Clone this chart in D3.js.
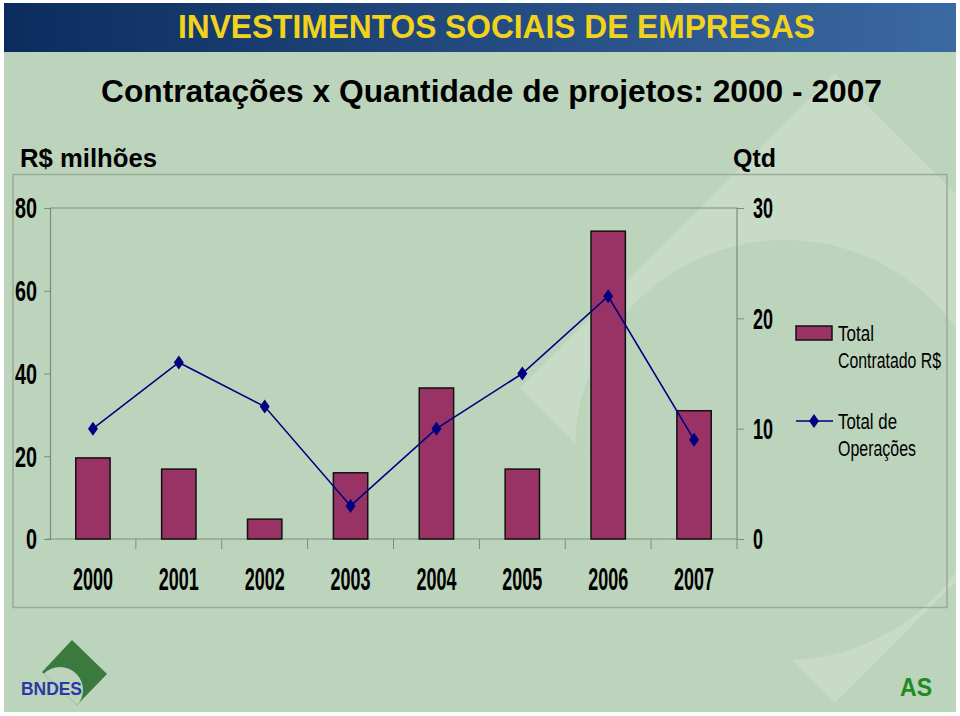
<!DOCTYPE html>
<html>
<head>
<meta charset="utf-8">
<script src="https://cdn.jsdelivr.net/npm/d3@7"></script>
<style>
  body { margin: 0; background: #fff; }
  svg { display: block; }
  .narrow { font-family: "Liberation Sans Narrow", "Arial Narrow", "Liberation Sans", sans-serif; font-stretch: condensed; }
  .sans { font-family: "Liberation Sans", Arial, sans-serif; }
</style>
</head>
<body>
<svg></svg>
<script>
// values
const years = ["2000", "2001", "2002", "2003", "2004", "2005", "2006", "2007"];
const totalContratado = [19.6, 16.9, 4.8, 16.0, 36.5, 16.9, 74.4, 31.0];
const totalOperacoes = [10, 16, 12, 3, 10, 15, 22, 9];
const leftTicks = [0, 20, 40, 60, 80];
const rightTicks = [0, 10, 20, 30];
const legendBar = ["Total", "Contratado R$"];
const legendLine = ["Total de", "Operações"];

let width = 960;
let height = 716;
let plot = {left: 50, right: 737, top: 208, bottom: 539};
let barColor = "#993366";
let lineColor = "#000080";
let axisColor = "#7d8b7d";
let bgColor = "#bdd4bc";

let svg = d3.select("svg")
            .attr("width", width)
            .attr("height", height);
let defs = svg.append("defs");

// slide background
svg.append("rect")
   .attr("x", 4).attr("y", 3)
   .attr("width", 952).attr("height", 709)
   .attr("fill", bgColor);

// faded logo watermark: diamond with a round bite, kept inside the slide
let wmDiamond = "M520,388L835,73L1150,388L835,703Z";
defs.append("clipPath").attr("id", "page")
    .append("rect").attr("x", 4).attr("y", 52).attr("width", 952).attr("height", 660);
defs.append("clipPath").attr("id", "wm")
    .append("path").attr("d", wmDiamond);

let wmGroup = svg.append("g").attr("clip-path", "url(#page)")
                 .append("g").attr("clip-path", "url(#wm)");
wmGroup.append("path")
   .attr("d", wmDiamond)
   .attr("fill", "#ffffff")
   .attr("fill-opacity", 0.17);
wmGroup.append("circle")
   .attr("cx", 785).attr("cy", 450).attr("r", 210)
   .attr("fill", bgColor);

// header band
let grad = defs.append("linearGradient").attr("id", "band");
grad.append("stop").attr("offset", "0%").attr("stop-color", "#0c2c5e");
grad.append("stop").attr("offset", "100%").attr("stop-color", "#3b69a2");
svg.append("rect")
   .attr("x", 4).attr("y", 3)
   .attr("width", 952).attr("height", 49)
   .attr("fill", "url(#band)");

svg.append("text")
   .attr("class", "narrow")
   .attr("x", 178).attr("y", 38)
   .attr("textLength", 637)
   .attr("lengthAdjust", "spacingAndGlyphs")
   .style("font-size", "34px")
   .style("font-weight", "bold")
   .attr("fill", "#f2d31c")
   .text("INVESTIMENTOS SOCIAIS DE EMPRESAS");

svg.append("text")
   .attr("class", "sans")
   .attr("x", 101).attr("y", 102)
   .attr("textLength", 781)
   .attr("lengthAdjust", "spacingAndGlyphs")
   .style("font-size", "31px")
   .style("font-weight", "bold")
   .attr("fill", "#000")
   .text("Contratações x Quantidade de projetos: 2000 - 2007");

// axis titles
svg.append("text")
   .attr("class", "sans")
   .attr("x", 20).attr("y", 167)
   .attr("textLength", 137)
   .attr("lengthAdjust", "spacingAndGlyphs")
   .style("font-size", "25px")
   .style("font-weight", "bold")
   .text("R$ milhões");

svg.append("text")
   .attr("class", "sans")
   .attr("x", 733).attr("y", 167)
   .attr("textLength", 43)
   .attr("lengthAdjust", "spacingAndGlyphs")
   .style("font-size", "25px")
   .style("font-weight", "bold")
   .text("Qtd");

// chart area box
svg.append("rect")
   .attr("x", 13).attr("y", 174.5)
   .attr("width", 934).attr("height", 433)
   .attr("fill", "none")
   .attr("stroke", "#9aab99")
   .attr("stroke-width", 1.5);

// scales
let xScale = d3.scaleBand()
               .domain(years)
               .range([plot.left, plot.right])
               .paddingInner(0.6)
               .paddingOuter(0.3);

let yLeft = d3.scaleLinear()
              .domain([0, 80])
              .range([plot.bottom, plot.top]);

let yRight = d3.scaleLinear()
               .domain([0, 30])
               .range([plot.bottom, plot.top]);

// plot area border (top and right)
svg.append("path")
   .attr("d", `M${plot.left},${plot.top}H${plot.right}V${plot.bottom}`)
   .attr("fill", "none")
   .attr("stroke", axisColor)
   .attr("stroke-width", 1.2);

// left axis
let gLeft = svg.append("g")
   .attr("transform", `translate(${plot.left},0)`)
   .call(d3.axisLeft(yLeft).tickValues(leftTicks).tickSize(6).tickFormat(""));
gLeft.select(".domain").attr("stroke", axisColor).attr("stroke-width", 1.2);
gLeft.selectAll(".tick line").attr("stroke", axisColor);

svg.selectAll(".left-label")
   .data(leftTicks)
   .enter()
   .append("text")
   .attr("class", "narrow left-label")
   .attr("x", 37)
   .attr("y", d => yLeft(d))
   .attr("dy", "0.36em")
   .attr("text-anchor", "end")
   .attr("textLength", d => d === 0 ? 11 : 22)
   .attr("lengthAdjust", "spacingAndGlyphs")
   .style("font-size", "29px")
   .style("font-weight", "bold")
   .text(d => d);

// right axis
let gRight = svg.append("g")
   .attr("transform", `translate(${plot.right},0)`)
   .call(d3.axisRight(yRight).tickValues(rightTicks).tickSize(7).tickFormat(""));
gRight.select(".domain").remove();
gRight.selectAll(".tick line").attr("stroke", axisColor);

svg.selectAll(".right-label")
   .data(rightTicks)
   .enter()
   .append("text")
   .attr("class", "narrow right-label")
   .attr("x", 753)
   .attr("y", d => yRight(d))
   .attr("dy", "0.36em")
   .attr("textLength", d => d === 0 ? 10 : 20)
   .attr("lengthAdjust", "spacingAndGlyphs")
   .style("font-size", "29px")
   .style("font-weight", "bold")
   .text(d => d);

// bottom axis: baseline with ticks between categories
svg.append("line")
   .attr("x1", plot.left - 3).attr("x2", plot.right)
   .attr("y1", plot.bottom).attr("y2", plot.bottom)
   .attr("stroke", axisColor)
   .attr("stroke-width", 1.2);

svg.selectAll(".xtick")
   .data(years)
   .enter()
   .append("line")
   .attr("class", "xtick")
   .attr("x1", (d, i) => plot.left + xScale.step() * (i + 1))
   .attr("x2", (d, i) => plot.left + xScale.step() * (i + 1))
   .attr("y1", plot.bottom)
   .attr("y2", plot.bottom + 10)
   .attr("stroke", axisColor);

svg.selectAll(".year")
   .data(years)
   .enter()
   .append("text")
   .attr("class", "narrow year")
   .attr("x", d => xScale(d) + xScale.bandwidth() / 2)
   .attr("y", 590)
   .attr("text-anchor", "middle")
   .attr("textLength", 40)
   .attr("lengthAdjust", "spacingAndGlyphs")
   .style("font-size", "31px")
   .style("font-weight", "bold")
   .text(d => d);

// bars
svg.selectAll(".bar")
   .data(years)
   .enter()
   .append("rect")
   .attr("class", "bar")
   .attr("x", d => xScale(d))
   .attr("y", (d, i) => yLeft(totalContratado[i]))
   .attr("width", xScale.bandwidth())
   .attr("height", (d, i) => yLeft(0) - yLeft(totalContratado[i]))
   .attr("fill", barColor)
   .attr("stroke", "#111")
   .attr("stroke-width", 1.5);

// line with diamond markers
let line = d3.line()
             .x((d, i) => xScale(years[i]) + xScale.bandwidth() / 2)
             .y(d => yRight(d));

svg.append("path")
   .datum(totalOperacoes)
   .attr("d", line)
   .attr("fill", "none")
   .attr("stroke", lineColor)
   .attr("stroke-width", 1.6);

let diamond = "M0,-7L5,0L0,7L-5,0Z";

svg.selectAll(".marker")
   .data(totalOperacoes)
   .enter()
   .append("path")
   .attr("class", "marker")
   .attr("transform", (d, i) => `translate(${xScale(years[i]) + xScale.bandwidth() / 2},${yRight(d)})`)
   .attr("d", diamond)
   .attr("fill", lineColor);

// legend
let legend = svg.append("g").attr("class", "narrow");

legend.append("rect")
   .attr("x", 796).attr("y", 326)
   .attr("width", 36).attr("height", 14)
   .attr("fill", barColor)
   .attr("stroke", "#111")
   .attr("stroke-width", 1.5);

legend.selectAll(".lb")
   .data(legendBar)
   .enter()
   .append("text")
   .attr("x", 838)
   .attr("y", (d, i) => 341 + i * 27)
   .attr("textLength", (d, i) => i === 0 ? 36 : 103)
   .attr("lengthAdjust", "spacingAndGlyphs")
   .style("font-size", "22px")
   .text(d => d);

legend.append("line")
   .attr("x1", 796).attr("x2", 833)
   .attr("y1", 421).attr("y2", 421)
   .attr("stroke", lineColor)
   .attr("stroke-width", 1.6);

legend.append("path")
   .attr("transform", "translate(814,421)")
   .attr("d", diamond)
   .attr("fill", lineColor);

legend.selectAll(".ll")
   .data(legendLine)
   .enter()
   .append("text")
   .attr("x", 838)
   .attr("y", (d, i) => 429 + i * 27)
   .attr("textLength", (d, i) => i === 0 ? 59 : 78)
   .attr("lengthAdjust", "spacingAndGlyphs")
   .style("font-size", "22px")
   .text(d => d);

// BNDES logo: green diamond with a round bite
defs.append("clipPath").attr("id", "logo")
    .append("path").attr("d", "M42,672L72,640L107,674L77,705Z");
let logo = svg.append("g").attr("clip-path", "url(#logo)");
logo.append("rect")
    .attr("x", 40).attr("y", 638).attr("width", 70).attr("height", 70)
    .attr("fill", "#3a7a3e");
logo.append("circle")
    .attr("cx", 60).attr("cy", 690).attr("r", 23)
    .attr("fill", bgColor);

svg.append("text")
   .attr("class", "sans")
   .attr("x", 21).attr("y", 695)
   .attr("textLength", 61)
   .attr("lengthAdjust", "spacingAndGlyphs")
   .style("font-size", "19px")
   .style("font-weight", "bold")
   .attr("fill", "#2b3aa3")
   .text("BNDES");

svg.append("text")
   .attr("class", "sans")
   .attr("x", 900).attr("y", 696)
   .attr("textLength", 32)
   .attr("lengthAdjust", "spacingAndGlyphs")
   .style("font-size", "26px")
   .style("font-weight", "bold")
   .attr("fill", "#1f8c22")
   .text("AS");
</script>
</body>
</html>
